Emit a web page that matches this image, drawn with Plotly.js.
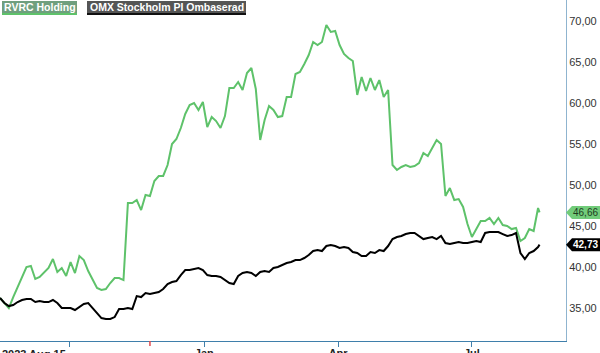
<!DOCTYPE html>
<html>
<head>
<meta charset="utf-8">
<script src="https://cdn.plot.ly/plotly-3.0.1.min.js"></script>
<style>
  html, body { margin: 0; padding: 0; background: #fff; }
  #chart { width: 600px; height: 353px; }
</style>
</head>
<body>
<div id="chart"></div>
<script>
// ---- data ----
const dates = [
  '2023-08-15','2023-08-18','2023-08-21','2023-08-24','2023-08-27','2023-08-30',
  '2023-09-02','2023-09-05','2023-09-08','2023-09-11','2023-09-14','2023-09-17','2023-09-20','2023-09-23','2023-09-26','2023-09-29',
  '2023-10-02','2023-10-05','2023-10-08','2023-10-11','2023-10-14','2023-10-17','2023-10-20','2023-10-23','2023-10-26','2023-10-29',
  '2023-11-01','2023-11-04','2023-11-07','2023-11-10','2023-11-13','2023-11-16','2023-11-19','2023-11-22','2023-11-25','2023-11-28',
  '2023-12-01','2023-12-04','2023-12-07','2023-12-10','2023-12-13','2023-12-16','2023-12-19','2023-12-22','2023-12-25','2023-12-28','2023-12-31',
  '2024-01-03','2024-01-06','2024-01-09','2024-01-12','2024-01-15','2024-01-18','2024-01-21','2024-01-24','2024-01-27','2024-01-30',
  '2024-02-02','2024-02-05','2024-02-08','2024-02-11','2024-02-14','2024-02-17','2024-02-20','2024-02-23','2024-02-26','2024-02-29',
  '2024-03-03','2024-03-06','2024-03-09','2024-03-12','2024-03-15','2024-03-18','2024-03-21','2024-03-24','2024-03-27','2024-03-30',
  '2024-04-02','2024-04-05','2024-04-08','2024-04-11','2024-04-14','2024-04-17','2024-04-20','2024-04-23','2024-04-26','2024-04-29',
  '2024-05-02','2024-05-05','2024-05-08','2024-05-11','2024-05-14','2024-05-17','2024-05-20','2024-05-23','2024-05-26','2024-05-29',
  '2024-06-01','2024-06-04','2024-06-07','2024-06-10','2024-06-13','2024-06-16','2024-06-19','2024-06-22','2024-06-25','2024-06-28',
  '2024-07-01','2024-07-04','2024-07-07','2024-07-10','2024-07-13','2024-07-16','2024-07-19','2024-07-22','2024-07-25','2024-07-28','2024-07-31',
  '2024-08-03','2024-08-06','2024-08-09','2024-08-12','2024-08-15','2024-08-16'
];

const rvrc = [
  36.22,35.61,35.00,36.34,37.56,38.66,40.00,40.12,38.54,38.78,
  39.39,39.88,40.98,39.39,39.88,38.90,40.61,39.27,41.34,40.85,
  39.51,38.41,37.44,37.20,37.32,38.05,38.66,38.66,38.41,47.80,
  47.80,48.17,46.95,48.78,48.66,50.49,51.10,51.10,52.44,55.00,
  55.61,56.95,58.66,59.76,60.00,59.15,60.12,57.07,58.29,57.80,
  56.95,58.41,61.83,61.83,62.56,61.59,63.66,64.27,61.71,55.49,
  57.93,59.63,59.15,58.29,58.41,60.73,60.73,63.54,63.78,64.76,
  65.85,67.44,67.07,67.44,69.51,68.66,68.78,67.07,65.98,65.49,
  65.12,60.98,63.17,61.46,63.05,61.59,62.80,60.73,61.59,52.44,
  51.83,52.20,52.44,52.20,52.32,52.68,53.90,53.54,54.51,55.49,
  55.00,48.66,49.63,48.17,48.29,47.32,45.24,43.66,44.63,45.61,
  45.61,45.98,45.24,45.98,45.12,45.00,44.63,44.76,43.17,43.54,
  44.63,44.39,47.20,46.66
];

const omx = [
  36.22,35.61,35.24,35.37,35.73,35.98,36.10,36.10,35.73,35.85,
  35.73,35.73,35.98,35.61,35.00,35.00,35.00,34.76,35.12,35.49,
  35.61,35.00,34.27,33.78,33.66,33.66,33.90,34.88,34.88,35.00,
  34.88,36.46,36.34,36.83,36.71,36.83,36.95,37.32,37.93,38.17,
  38.29,39.02,39.63,39.63,39.76,39.88,39.63,39.02,38.90,38.90,
  38.78,38.41,38.05,37.93,38.90,39.27,39.39,39.27,38.90,39.39,
  39.51,39.39,39.88,40.00,40.24,40.49,40.61,40.85,40.85,41.10,
  41.46,41.95,42.07,41.95,42.56,42.68,42.56,42.32,42.44,42.32,
  41.83,41.71,41.34,41.34,41.83,41.71,42.07,41.95,42.56,43.41,
  43.66,43.78,44.02,44.15,44.15,43.78,43.41,43.54,43.66,43.41,
  43.78,42.93,42.80,42.93,43.05,42.93,42.93,43.05,43.17,43.05,
  44.15,44.27,44.27,44.27,44.02,43.78,43.90,44.15,41.71,40.98,
  41.71,41.95,42.44,42.73
];

const seriesNames = ['RVRC Holding', 'OMX Stockholm PI Ombaserad'];
const xTickVals = ['2023-10-01', '2024-01-01', '2024-04-01', '2024-07-01'];
const xTickText = ['', 'Jan', 'Apr', 'Jul'];
const startLabel = '2023 Aug 15';
const markerDate = '2023-11-25';

// ---- styling ----
const GREEN = '#5ec26a';
const W = 600, H = 353;
const M = { l: 0, r: 34, t: 0, b: 12 };
const PW = W - M.l - M.r, PH = H - M.t - M.b;
const yRange = [30.98, 72.56];
const xRange = ['2023-08-15', '2024-09-03'];
const FONT = 'Liberation Sans, Arial, sans-serif';

const px = v => v / PW;            // pixel -> paper x
const py = v => 1 - v / PH;        // pixel (from top) -> paper y
const unitsPerPx = (yRange[1] - yRange[0]) / PH;
const fmt = v => v.toFixed(2).replace('.', ',');

const traces = [
  { x: dates, y: rvrc, type: 'scatter', mode: 'lines', name: seriesNames[0],
    line: { color: GREEN, width: 2 }, hoverinfo: 'skip' },
  { x: dates, y: omx, type: 'scatter', mode: 'lines', name: seriesNames[1],
    line: { color: '#000000', width: 2 }, hoverinfo: 'skip' }
];

function tagPath(v) {
  const h = 6.5 * unitsPerPx;
  const x0 = 1, x1 = 1 + px(6), x2 = 1 + px(34);
  return `M${x0},${v} L${x1},${v + h} L${x2},${v + h} L${x2},${v - h} L${x1},${v - h} Z`;
}

const lastG = rvrc[rvrc.length - 1];
const lastB = omx[omx.length - 1];

const shapes = [
  // legend boxes
  { type: 'rect', xref: 'paper', yref: 'paper', x0: px(2), x1: px(77), y0: py(13), y1: py(1),
    fillcolor: '#6f9f7e', line: { width: 0 } },
  { type: 'rect', xref: 'paper', yref: 'paper', x0: px(2), x1: px(77), y0: py(15), y1: py(13),
    fillcolor: GREEN, line: { width: 0 } },
  { type: 'rect', xref: 'paper', yref: 'paper', x0: px(87), x1: px(246), y0: py(13), y1: py(1),
    fillcolor: '#555555', line: { width: 0 } },
  { type: 'rect', xref: 'paper', yref: 'paper', x0: px(87), x1: px(246), y0: py(15), y1: py(13),
    fillcolor: '#111111', line: { width: 0 } },
  // last-value tags
  { type: 'path', xref: 'paper', yref: 'y', path: tagPath(lastG),
    fillcolor: '#72cc7a', line: { width: 0 } },
  { type: 'path', xref: 'paper', yref: 'y', path: tagPath(lastB),
    fillcolor: '#000000', line: { width: 0 } },
  // red marker tick on x axis
  { type: 'line', xref: 'x', yref: 'paper', x0: markerDate, x1: markerDate, y0: 0, y1: -5 / PH,
    line: { color: '#e0474c', width: 1.5 } }
];

const annotations = [
  { xref: 'paper', yref: 'paper', x: px(39.5), y: py(7), xanchor: 'center', yanchor: 'middle',
    text: '<b>' + seriesNames[0] + '</b>', showarrow: false,
    font: { family: FONT, size: 10.5, color: '#ffffff' } },
  { xref: 'paper', yref: 'paper', x: px(166.5), y: py(7), xanchor: 'center', yanchor: 'middle',
    text: '<b>' + seriesNames[1] + '</b>', showarrow: false,
    font: { family: FONT, size: 10.5, color: '#ffffff' } },
  { xref: 'paper', yref: 'y', x: 1 + px(19.5), y: lastG, xanchor: 'center', yanchor: 'middle',
    text: fmt(lastG), showarrow: false, font: { family: FONT, size: 10, color: '#1e3a1e' } },
  { xref: 'paper', yref: 'y', x: 1 + px(19.5), y: lastB, xanchor: 'center', yanchor: 'middle',
    text: '<b>' + fmt(lastB) + '</b>', showarrow: false, font: { family: FONT, size: 10, color: '#ffffff' } },
  { xref: 'paper', yref: 'paper', x: 0, y: -5 / PH, xanchor: 'left', yanchor: 'top',
    text: '<b>' + startLabel + '</b>', showarrow: false,
    font: { family: FONT, size: 11, color: '#222222' } }
];

const layout = {
  width: W, height: H,
  margin: M,
  paper_bgcolor: '#ffffff', plot_bgcolor: '#ffffff',
  showlegend: false,
  separators: ', ',
  font: { family: FONT, size: 11, color: '#333333' },
  xaxis: {
    type: 'date', range: xRange,
    tickvals: xTickVals, ticktext: xTickText,
    ticks: 'outside', ticklen: 5, tickwidth: 1, tickcolor: '#3f7fab',
    ticklabelstandoff: -3,
    showline: true, linecolor: '#3f7fab', linewidth: 1,
    showgrid: false, zeroline: false,
    tickfont: { family: FONT, size: 11, color: '#222222', weight: 'bold' }
  },
  yaxis: {
    side: 'right', range: yRange,
    tick0: 35, dtick: 5, tickformat: '.2f',
    ticks: '', showline: true, linecolor: '#8fb4cf', linewidth: 1,
    showgrid: false, zeroline: false,
    tickfont: { family: FONT, size: 11, color: '#333333' }
  },
  shapes: shapes,
  annotations: annotations
};

Plotly.newPlot('chart', traces, layout, { staticPlot: true, displayModeBar: false });
</script>
</body>
</html>
